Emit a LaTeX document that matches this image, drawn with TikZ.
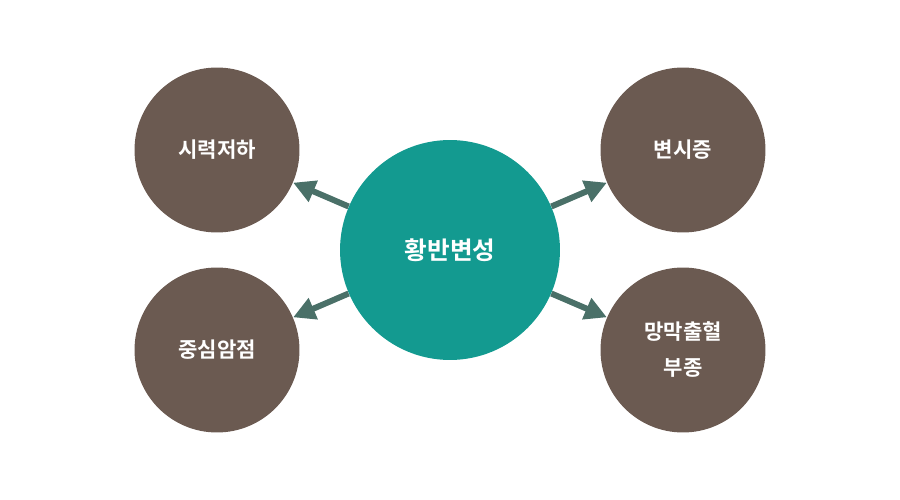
\documentclass[tikz,border=0pt]{standalone}
\usepackage{fontspec}
\newfontfamily\kr{Noto Sans CJK KR}[BoldFont={Noto Sans CJK KR Bold}]
\usepackage{xcolor}
\usepackage{tikz}
\usetikzlibrary{arrows.meta,positioning}

\definecolor{hubteal}{HTML}{139A90}
\definecolor{leafbrown}{HTML}{6B5A51}
\definecolor{linkgray}{HTML}{4A7068}

\begin{document}
\begin{tikzpicture}[
  x=0.02cm,y=-0.02cm,
  every node/.style={font=\kr\bfseries,text=white,align=center},
  hub/.style={circle,fill=hubteal,minimum size=4.4cm,inner sep=0pt,
              font=\kr\bfseries\fontsize{14}{16}\selectfont},
  leaf/.style={circle,fill=leafbrown,minimum size=3.3cm,inner sep=0pt,
               font=\kr\bfseries\fontsize{12}{20.5}\selectfont},
  link/.style={draw=linkgray,line width=3.4pt,
               -{Triangle[length=12.5pt,width=12.5pt]}},
]
\useasboundingbox (0,0) rectangle (900,500);
\node[hub] (c) at (450,250) {황반변성};
\node[leaf] (tl) at (217,150) {시력저하};
\node[leaf] (bl) at (217,350) {중심암점};
\node[leaf] (tr) at (683,150) {변시증};
\node[leaf] (br) at (683,350) {망막출혈\\부종};
\draw[link] (c) -- (tl);
\draw[link] (c) -- (bl);
\draw[link] (c) -- (tr);
\draw[link] (c) -- (br);
\end{tikzpicture}
\end{document}
